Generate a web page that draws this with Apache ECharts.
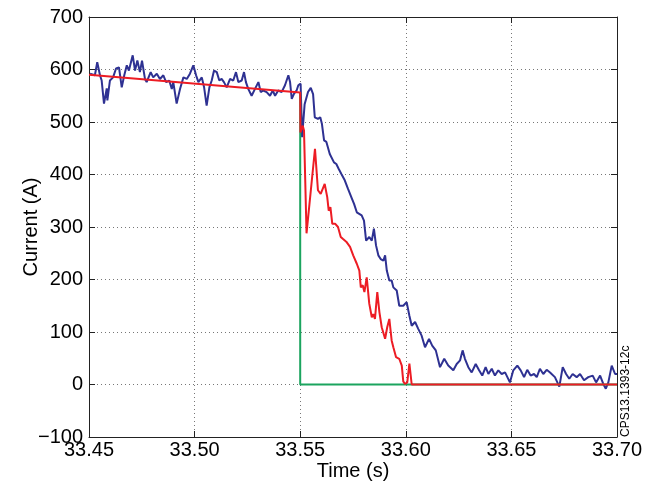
<!DOCTYPE html>
<html>
<head>
<meta charset="utf-8">
<script src="https://cdn.jsdelivr.net/npm/echarts@6/dist/echarts.min.js"></script>
<style>
  html, body { margin: 0; padding: 0; background: #fff; }
  #chart { width: 660px; height: 490px; }
</style>
</head>
<body>
<div id="chart"></div>
<script>
// measured current (blue)
const measuredTime = [
  33.4505, 33.4528, 33.4539, 33.4552, 33.4560, 33.4571, 33.4584, 33.4587, 33.4599, 33.4614,
  33.4628, 33.4642, 33.4655, 33.4667, 33.4679, 33.4689, 33.4707, 33.4718, 33.4729, 33.4741,
  33.4751, 33.4765, 33.4773, 33.4792, 33.4804, 33.4821, 33.4836, 33.4852, 33.4865, 33.4880,
  33.4892, 33.4899, 33.4915, 33.4931, 33.4947, 33.4963, 33.4978, 33.4994, 33.5007, 33.5018,
  33.5034, 33.5045, 33.5057, 33.5070, 33.5081, 33.5092, 33.5105, 33.5117, 33.5128, 33.5139,
  33.5152, 33.5168, 33.5183, 33.5196, 33.5207, 33.5223, 33.5234, 33.5243, 33.5254, 33.5270,
  33.5286, 33.5302, 33.5313, 33.5325, 33.5341, 33.5357, 33.5370, 33.5381, 33.5396, 33.5412,
  33.5428, 33.5444, 33.5452, 33.5460, 33.5471, 33.5483, 33.5491, 33.5502, 33.5509, 33.5521,
  33.5537, 33.5550, 33.5561, 33.5569, 33.5584, 33.5595, 33.5603, 33.5613, 33.5624, 33.5640,
  33.5647, 33.5660, 33.5671, 33.5682, 33.5695, 33.5711, 33.5726, 33.5742, 33.5755, 33.5768,
  33.5775, 33.5791, 33.5802, 33.5812, 33.5827, 33.5839, 33.5849, 33.5859, 33.5870, 33.5881,
  33.5894, 33.5902, 33.5910, 33.5922, 33.5933, 33.5941, 33.5957, 33.5969, 33.5988, 33.6004,
  33.6017, 33.6028, 33.6044, 33.6059, 33.6075, 33.6091, 33.6110, 33.6125, 33.6142, 33.6162,
  33.6182, 33.6201, 33.6225, 33.6241, 33.6257, 33.6269, 33.6280, 33.6296, 33.6312, 33.6331,
  33.6347, 33.6362, 33.6378, 33.6391, 33.6407, 33.6422, 33.6438, 33.6454, 33.6470, 33.6493,
  33.6509, 33.6528, 33.6544, 33.6560, 33.6575, 33.6591, 33.6607, 33.6620, 33.6635, 33.6651,
  33.6667, 33.6683, 33.6706, 33.6727, 33.6743, 33.6759, 33.6774, 33.6790, 33.6809, 33.6825,
  33.6844, 33.6864, 33.6885, 33.6901, 33.6920, 33.6935, 33.6947, 33.6959, 33.6975, 33.6991,
  33.7000
];
const measuredCurrent = [
  592, 589, 614, 589, 579, 535, 564, 541, 579, 585,
  602, 604, 566, 589, 608, 598, 627, 598, 617, 595,
  617, 582, 576, 595, 585, 592, 582, 589, 576, 579,
  563, 576, 535, 563, 585, 582, 592, 608, 589, 576,
  585, 566, 531, 566, 579, 598, 595, 579, 582, 576,
  566, 582, 579, 595, 576, 579, 595, 576, 563, 550,
  563, 576, 557, 560, 557, 550, 560, 550, 560, 557,
  570, 589, 576, 544, 554, 560, 570, 573, 471, 534,
  557, 565, 553, 509, 506, 509, 496, 465, 462, 439,
  442, 423, 420, 411, 401, 389, 373, 357, 344, 328,
  325, 322, 312, 274, 281, 274, 297, 265, 246, 239,
  236, 246, 217, 198, 198, 185, 179, 150, 150, 157,
  131, 112, 119, 106, 93, 71, 87, 74, 65, 33,
  49, 36, 27, 39, 46, 65, 49, 33, 23, 39,
  27, 17, 33, 20, 30, 17, 27, 20, 23, 4,
  27, 36, 27, 14, 28, 17, 20, 14, 30, 20,
  28, 23, 14, -4, 33, 20, 11, 20, 14, 20,
  8, 14, 17, 4, 17, 1, -8, 4, 36, 20,
  20
];

// model current (red)
const modelTime = [
  33.4500, 33.5500, 33.5501, 33.5512, 33.5518, 33.5530, 33.5570, 33.5584, 33.5597, 33.5603,
  33.5616, 33.5628, 33.5635, 33.5643, 33.5652, 33.5666, 33.5679, 33.5692, 33.5703, 33.5718,
  33.5736, 33.5751, 33.5768, 33.5780, 33.5787, 33.5796, 33.5804, 33.5815, 33.5827, 33.5839,
  33.5846, 33.5854, 33.5865, 33.5875, 33.5886, 33.5902, 33.5912, 33.5922, 33.5933, 33.5941,
  33.5954, 33.5969, 33.5981, 33.5988, 33.5996, 33.6007, 33.6017, 33.6028, 33.7000
];
const modelCurrent = [
  590, 556, 480, 493, 484, 288, 449, 370, 363, 366,
  382, 357, 331, 338, 306, 306, 300, 281, 277, 272,
  262, 246, 230, 217, 185, 189, 176, 204, 154, 128,
  134, 125, 176, 138, 109, 87, 109, 125, 84, 71,
  52, 49, 36, 6, 1, 4, 40, 0, 0
];

// commanded step (green)
const stepTime = [33.5500, 33.5500, 33.7000];
const stepCurrent = [556, 0, 0];

const xTicks = { min: 33.45, max: 33.70, interval: 0.05 };
const yTicks = { min: -100, max: 700, interval: 100 };

const zip = (xs, ys) => xs.map((x, i) => [x, ys[i]]);

const font = 'Liberation Sans, Arial, Helvetica, sans-serif';
const axisColor = '#222';
const labelStyle = { color: '#000', fontSize: 20, fontFamily: font };

const chart = echarts.init(document.getElementById('chart'));
chart.setOption({
  animation: false,
  grid: { left: 89, right: 43, top: 17, height: 420, outerBoundsMode: 'none', containLabel: false },
  xAxis: [
    {
      type: 'value',
      min: xTicks.min,
      max: xTicks.max,
      interval: xTicks.interval,
      name: 'Time (s)',
      nameLocation: 'middle',
      nameGap: 24,
      nameMoveOverlap: false,
      nameTextStyle: { color: '#000', fontSize: 20, fontFamily: font },
      axisLine: { show: true, onZero: false, lineStyle: { color: axisColor, width: 1 } },
      axisTick: { show: true, inside: true, length: 6, lineStyle: { color: axisColor } },
      axisLabel: { ...labelStyle, margin: 3, formatter: v => v.toFixed(2) },
      splitLine: { show: true, lineStyle: { color: '#777', type: [1, 3], width: 1 } }
    },
    {
      type: 'value',
      position: 'top',
      min: xTicks.min,
      max: xTicks.max,
      interval: xTicks.interval,
      axisLine: { show: true, onZero: false, lineStyle: { color: axisColor, width: 1 } },
      axisTick: { show: true, inside: true, length: 6, lineStyle: { color: axisColor } },
      axisLabel: { show: false },
      splitLine: { show: false }
    }
  ],
  yAxis: [
    {
      type: 'value',
      min: yTicks.min,
      max: yTicks.max,
      interval: yTicks.interval,
      name: 'Current (A)',
      nameLocation: 'middle',
      nameGap: 48,
      nameMoveOverlap: false,
      nameTextStyle: { color: '#000', fontSize: 20, fontFamily: font },
      axisLine: { show: true, onZero: false, lineStyle: { color: axisColor, width: 1 } },
      axisTick: { show: true, inside: true, length: 6, lineStyle: { color: axisColor } },
      axisLabel: { ...labelStyle, margin: 6, formatter: v => String(v).replace('-', '\u2212') },
      splitLine: { show: true, lineStyle: { color: '#777', type: [1, 3], width: 1 } }
    },
    {
      type: 'value',
      position: 'right',
      min: yTicks.min,
      max: yTicks.max,
      interval: yTicks.interval,
      axisLine: { show: true, onZero: false, lineStyle: { color: axisColor, width: 1 } },
      axisTick: { show: true, inside: true, length: 6, lineStyle: { color: axisColor } },
      axisLabel: { show: false },
      splitLine: { show: false }
    }
  ],
  series: [
    {
      name: 'measured',
      type: 'line',
      data: zip(measuredTime, measuredCurrent),
      showSymbol: false,
      lineStyle: { color: '#2e3192', width: 2 },
      z: 2
    },
    {
      name: 'step',
      type: 'line',
      data: zip(stepTime, stepCurrent),
      showSymbol: false,
      lineStyle: { color: '#1ba45e', width: 2 },
      z: 3
    },
    {
      name: 'model',
      type: 'line',
      data: zip(modelTime, modelCurrent),
      showSymbol: false,
      lineStyle: { color: '#ed1c24', width: 2 },
      z: 4
    }
  ],
  graphic: [
    {
      type: 'text',
      x: 626,
      y: 437,
      rotation: Math.PI / 2,
      style: {
        text: 'CPS13.1393-12c',
        fill: '#000',
        font: '12px ' + font,
        textAlign: 'left',
        textVerticalAlign: 'middle'
      }
    }
  ]
});
</script>
</body>
</html>
